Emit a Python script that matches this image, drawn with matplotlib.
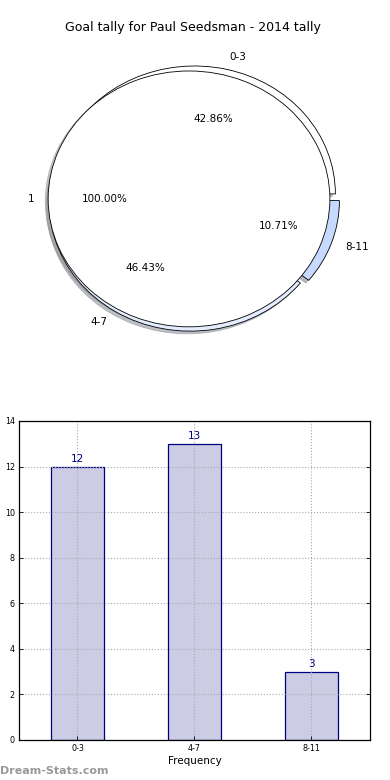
import numpy as np
import matplotlib
matplotlib.use('Agg')
import matplotlib.pyplot as plt

# data
title = 'Goal tally for Paul Seedsman - 2014 tally'
intervals = ['0-3', '4-7', '8-11']
tally = [12, 13, 3]
full_label = ['1']
full_value = [1]

wedge_colors = ['#ffffff', '#e4ecff', '#c6d9ff']
shadow_style = {'ox': -0.015, 'oy': -0.015, 'shade': 0.45}

fig = plt.figure(figsize=(3.9, 7.8), dpi=100)

# --- pie ---
ax1 = fig.add_axes([0.044, 0.540, 0.903, 0.410])
ax1.pie(tally, labels=intervals, colors=wedge_colors, explode=[0.04] * 3,
        autopct='%.2f%%', shadow=shadow_style, startangle=0,
        wedgeprops={'edgecolor': 'black', 'linewidth': 0.6},
        textprops={'fontsize': 7.5})
ax1.pie(full_value, labels=full_label, colors=['white'], explode=[0.03],
        autopct='%.2f%%', shadow=shadow_style, startangle=0,
        wedgeprops={'edgecolor': 'black', 'linewidth': 0.6},
        textprops={'fontsize': 7.5})
ax1.set_aspect('auto')
ax1.set_xlim(-1.25, 1.25)
ax1.set_ylim(-1.25, 1.25)
ax1.set_title(title, fontsize=9, pad=6)

# --- bars ---
ax2 = fig.add_axes([0.0487, 0.0513, 0.900, 0.409])
x = np.arange(len(intervals))
ax2.bar(x, tally, width=0.45, color='#ccccE5', edgecolor='#000080',
        linewidth=0.9, zorder=1)
for xi, v in zip(x, tally):
    ax2.text(xi, v + 0.12, str(v), ha='center', va='bottom',
             color='#000080', fontsize=7.5)
ax2.set_xlim(-0.5, 2.5)
ax2.set_ylim(0, 14)
ax2.set_xticks(x)
ax2.set_xticklabels(intervals)
ax2.set_yticks(range(0, 15, 2))
ax2.tick_params(labelsize=5.8, direction='in', length=3, width=0.6,
                top=False, right=True, pad=3)
ax2.set_axisbelow('line')
ax2.grid(True, linestyle=':', color='#aaaaaa', linewidth=0.8)
ax2.set_xlabel('Frequency', fontsize=7.5, labelpad=2)
ax2.set_ylabel('Goal Interval', fontsize=7)
ax2.yaxis.set_label_coords(-0.052, 0.5)
for s in ax2.spines.values():
    s.set_linewidth(0.9)

fig.text(0.0, 0.0045, 'Dream-Stats.com', fontsize=8, color='#999999',
         fontweight='bold', ha='left', va='bottom')

fig.savefig('out.png', dpi=100)
